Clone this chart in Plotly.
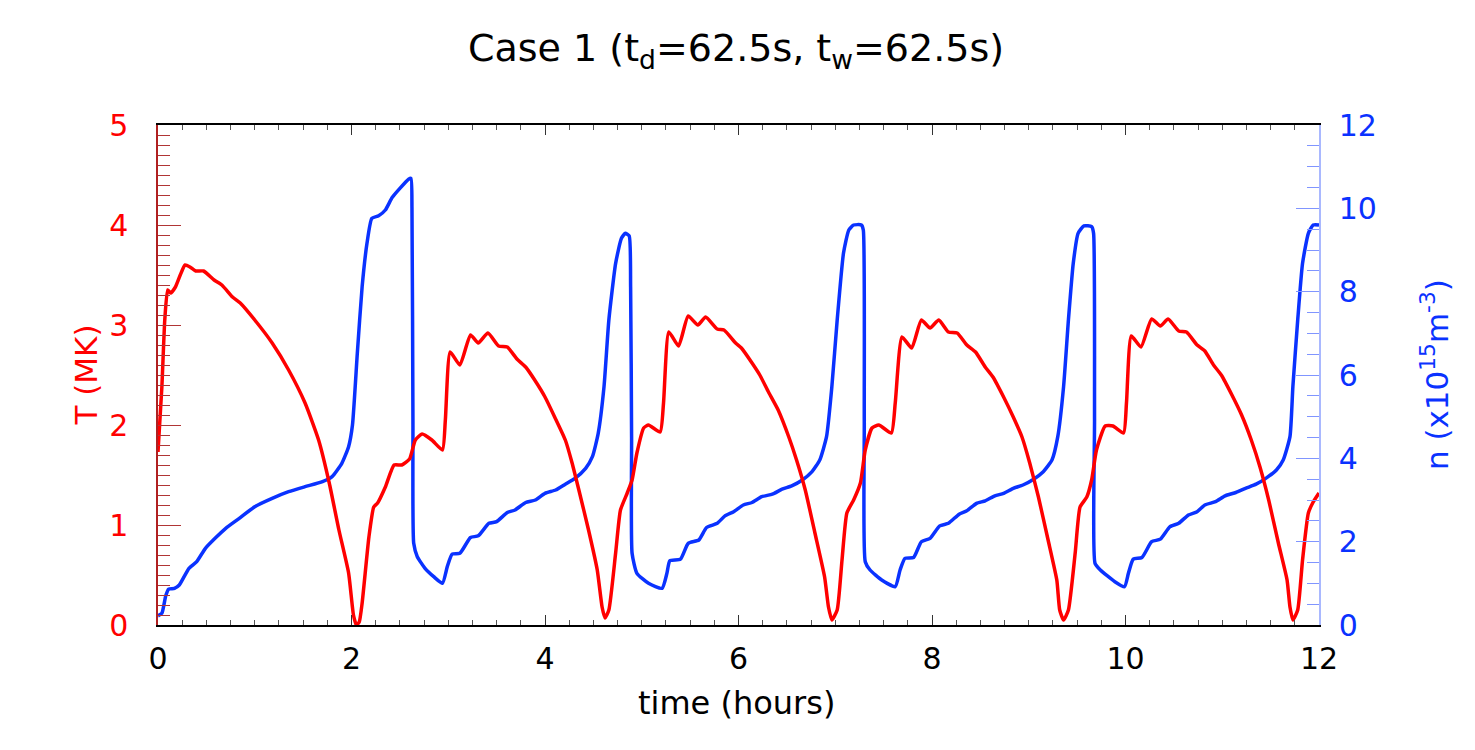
import plotly.graph_objects as go

# ---- data ----
t_T = [0.00, 0.04, 0.07, 0.10, 0.13, 0.18, 0.23, 0.28, 0.33, 0.39, 0.47, 0.58, 0.66, 0.77, 0.85,
       1.00, 1.18, 1.35, 1.52, 1.66, 1.77, 1.87, 1.97, 2.02, 2.05, 2.08, 2.11, 2.18, 2.23, 2.27,
       2.35, 2.44, 2.52, 2.60, 2.66, 2.73, 2.83, 2.94, 2.97, 3.02, 3.12, 3.23, 3.31, 3.41, 3.52,
       3.61, 3.71, 3.80, 3.90, 4.00, 4.10, 4.21, 4.28, 4.35, 4.45, 4.54, 4.59, 4.62, 4.66, 4.73,
       4.78, 4.85, 4.90, 4.95, 5.02, 5.07, 5.19, 5.225, 5.28, 5.38, 5.48, 5.58, 5.66, 5.78, 5.85,
       5.97, 6.03, 6.14, 6.22, 6.31, 6.41, 6.52, 6.60, 6.69, 6.79, 6.89, 6.93, 6.965, 7.02, 7.07,
       7.12, 7.19, 7.26, 7.31, 7.38, 7.45, 7.58, 7.62, 7.69, 7.79, 7.89, 7.98, 8.07, 8.17, 8.26,
       8.36, 8.45, 8.55, 8.63, 8.74, 8.84, 8.93, 9.01, 9.10, 9.20, 9.29, 9.32, 9.36, 9.41, 9.48,
       9.53, 9.60, 9.65, 9.70, 9.79, 9.87, 9.98, 10.01, 10.06, 10.16, 10.27, 10.36, 10.44, 10.55, 10.63,
       10.74, 10.82, 10.91, 10.99, 11.10, 11.20, 11.30, 11.39, 11.48, 11.58, 11.67, 11.70, 11.73, 11.78, 11.83,
       11.89, 11.94, 12.00]
T_MK = [1.73, 2.38, 3.05, 3.35, 3.32, 3.38, 3.50, 3.60, 3.58, 3.54, 3.54, 3.45, 3.40, 3.28, 3.22,
        3.05, 2.82, 2.55, 2.22, 1.85, 1.42, 0.95, 0.52, 0.10, 0.00, 0.03, 0.22, 0.88, 1.18, 1.22,
        1.38, 1.60, 1.60, 1.66, 1.85, 1.91, 1.85, 1.75, 2.05, 2.73, 2.60, 2.90, 2.82, 2.92, 2.79,
        2.78, 2.66, 2.58, 2.44, 2.28, 2.08, 1.85, 1.62, 1.35, 0.95, 0.55, 0.18, 0.07, 0.15, 0.72,
        1.15, 1.32, 1.45, 1.72, 1.97, 2.00, 1.93, 2.22, 2.93, 2.79, 3.09, 3.00, 3.08, 2.96, 2.95,
        2.82, 2.77, 2.62, 2.50, 2.33, 2.15, 1.88, 1.65, 1.35, 0.92, 0.48, 0.18, 0.05, 0.15, 0.65,
        1.12, 1.25, 1.42, 1.75, 1.97, 2.00, 1.92, 2.22, 2.88, 2.77, 3.05, 2.97, 3.05, 2.93, 2.92,
        2.80, 2.73, 2.58, 2.48, 2.28, 2.08, 1.88, 1.62, 1.28, 0.85, 0.45, 0.15, 0.05, 0.15, 0.72,
        1.18, 1.28, 1.45, 1.75, 1.99, 1.99, 1.92, 2.22, 2.89, 2.78, 3.06, 2.99, 3.06, 2.94, 2.93,
        2.80, 2.74, 2.60, 2.50, 2.30, 2.10, 1.85, 1.58, 1.25, 0.82, 0.45, 0.18, 0.05, 0.15, 0.65,
        1.12, 1.23, 1.32]

t_n = [0.00, 0.04, 0.08, 0.11, 0.17, 0.22, 0.32, 0.40, 0.49, 0.59, 0.70, 0.84, 1.00, 1.18, 1.35,
       1.52, 1.70, 1.80, 1.90, 1.97, 2.01, 2.06, 2.11, 2.16, 2.21, 2.28, 2.35, 2.42, 2.50, 2.59,
       2.615, 2.625, 2.635, 2.643, 2.68, 2.76, 2.85, 2.94, 2.99, 3.04, 3.12, 3.23, 3.31, 3.42, 3.50,
       3.61, 3.69, 3.80, 3.90, 4.00, 4.11, 4.21, 4.31, 4.42, 4.49, 4.55, 4.61, 4.66, 4.73, 4.79,
       4.83, 4.87, 4.885, 4.895, 4.90, 4.95, 5.07, 5.21, 5.26, 5.29, 5.40, 5.48, 5.59, 5.67, 5.78,
       5.86, 5.95, 6.05, 6.14, 6.24, 6.35, 6.45, 6.55, 6.66, 6.76, 6.84, 6.91, 6.965, 7.02, 7.085,
       7.14, 7.19, 7.27, 7.29, 7.30, 7.31, 7.36, 7.48, 7.62, 7.67, 7.72, 7.81, 7.89, 7.98, 8.08,
       8.17, 8.28, 8.36, 8.46, 8.55, 8.65, 8.74, 8.84, 8.94, 9.05, 9.15, 9.24, 9.30, 9.36, 9.41,
       9.46, 9.51, 9.57, 9.65, 9.67, 9.68, 9.685, 9.74, 9.89, 9.99, 10.03, 10.08, 10.17, 10.27, 10.36,
       10.46, 10.55, 10.65, 10.74, 10.82, 10.93, 11.03, 11.14, 11.24, 11.35, 11.45, 11.56, 11.63, 11.70, 11.73,
       11.78, 11.83, 11.89, 11.94, 12.00]
n_15 = [0.22, 0.28, 0.70, 0.86, 0.88, 0.96, 1.36, 1.52, 1.84, 2.08, 2.32, 2.56, 2.84, 3.04, 3.20,
        3.32, 3.44, 3.56, 3.88, 4.28, 4.80, 6.52, 8.12, 9.16, 9.76, 9.82, 9.96, 10.26, 10.48, 10.70,
        10.72, 10.00, 4.90, 1.96, 1.64, 1.36, 1.16, 1.00, 1.40, 1.70, 1.72, 2.10, 2.14, 2.44, 2.48,
        2.70, 2.76, 2.94, 3.00, 3.16, 3.24, 3.38, 3.52, 3.76, 4.04, 4.60, 5.72, 7.32, 8.68, 9.28,
        9.40, 9.34, 8.10, 4.50, 1.72, 1.24, 1.00, 0.88, 1.24, 1.54, 1.58, 1.96, 2.04, 2.34, 2.44,
        2.62, 2.72, 2.88, 2.94, 3.08, 3.14, 3.26, 3.34, 3.48, 3.68, 3.96, 4.52, 5.72, 7.32, 8.92,
        9.48, 9.60, 9.60, 9.48, 4.92, 1.52, 1.32, 1.08, 0.92, 1.32, 1.60, 1.62, 2.00, 2.08, 2.38,
        2.44, 2.66, 2.74, 2.92, 2.98, 3.10, 3.16, 3.28, 3.36, 3.50, 3.68, 3.96, 4.52, 5.72, 7.32,
        8.68, 9.40, 9.58, 9.56, 9.40, 4.92, 1.48, 1.32, 1.04, 0.92, 1.24, 1.58, 1.62, 2.00, 2.06,
        2.36, 2.44, 2.64, 2.72, 2.88, 2.96, 3.10, 3.18, 3.28, 3.38, 3.52, 3.72, 3.96, 4.52, 5.72,
        7.32, 8.68, 9.40, 9.60, 9.60]

x_ticks = [0, 2, 4, 6, 8, 10, 12]
T_ticks = [0, 1, 2, 3, 4, 5]
n_ticks = [0, 2, 4, 6, 8, 10, 12]

RED = "#ff0000"
BLUE = "#0a32ff"
FONT = "DejaVu Sans"

fig = go.Figure()
fig.add_trace(go.Scatter(x=t_n, y=n_15, mode="lines",
                         line=dict(color=BLUE, width=3.5, shape="spline", smoothing=0.5),
                         yaxis="y", showlegend=False))
fig.add_trace(go.Scatter(x=t_T, y=T_MK, mode="lines",
                         line=dict(color=RED, width=3.5, shape="spline", smoothing=0.5),
                         yaxis="y2", showlegend=False))

fig.update_layout(
    width=1475, height=750,
    margin=dict(l=158, r=156, t=125, b=125),
    paper_bgcolor="white", plot_bgcolor="white",
    font=dict(family=FONT, size=30, color="black"),
    xaxis=dict(range=[0, 12], tickvals=x_ticks, ticks="inside", ticklen=10, tickwidth=1,
               tickcolor="#333", showline=True, linecolor="black", linewidth=1.5,
               mirror="ticks", showgrid=False, zeroline=False,
               minor=dict(dtick=0.25, ticks="inside", ticklen=5, tickcolor="#555", showgrid=False),
               tickfont=dict(size=30, color="black", family=FONT), ticklabelstandoff=6),
    yaxis=dict(range=[0, 12], tickvals=n_ticks, side="right", ticks="inside", ticklen=23,
               tickcolor="#8095ff", showline=True, linecolor="#a9b8ff", linewidth=1.5,
               showgrid=False, zeroline=False,
               minor=dict(dtick=0.5, ticks="inside", ticklen=12, tickcolor="#8095ff", showgrid=False),
               tickfont=dict(size=30, color=BLUE, family=FONT), ticklabelstandoff=12),
    yaxis2=dict(range=[0, 5], tickvals=T_ticks, side="left", overlaying="y", ticks="inside",
                ticklen=23, tickcolor="#b03535", showline=True, linecolor="#b02020", linewidth=1.5,
                showgrid=False, zeroline=False,
                minor=dict(dtick=0.1, ticks="inside", ticklen=12, tickcolor="#b03535", showgrid=False),
                tickfont=dict(size=30, color=RED, family=FONT), ticklabelstandoff=22),
    annotations=[
        dict(text="Case 1 (t<sub>d</sub>=62.5s, t<sub>w</sub>=62.5s)", xref="paper", yref="paper",
             x=0.498, y=1.15, xanchor="center", yanchor="middle", showarrow=False,
             font=dict(size=38, color="black", family=FONT)),
        dict(text="time (hours)", xref="paper", yref="paper", x=0.498, y=-0.156,
             xanchor="center", yanchor="middle", showarrow=False,
             font=dict(size=32, color="black", family=FONT)),
        dict(text="T (MK)", xref="paper", yref="paper", x=-0.0624, y=0.5, textangle=-90,
             xanchor="center", yanchor="middle", showarrow=False,
             font=dict(size=31, color=RED, family=FONT)),
        dict(text="n (x10<sup>15</sup>m<sup>-3</sup>)", xref="paper", yref="paper", x=1.1, y=0.5,
             textangle=-90, xanchor="center", yanchor="middle", showarrow=False,
             font=dict(size=31, color=BLUE, family=FONT)),
    ],
)

fig.write_html("out.html")
